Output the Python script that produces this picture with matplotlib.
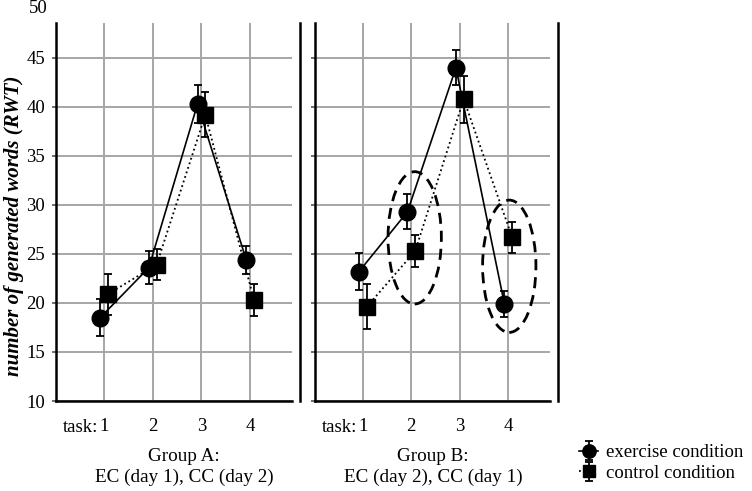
import matplotlib
matplotlib.use("Agg")
import matplotlib.pyplot as plt
from matplotlib.patches import Ellipse
import matplotlib.transforms as mtransforms

plt.rcParams['font.family'] = ['Liberation Serif', 'DejaVu Serif']

tasks = [1, 2, 3, 4]
tick_labels = ['1', '2', '3', '4']

# Group A
a_ex = [18.5, 23.6, 40.3, 24.4]
a_ex_err = [1.9, 1.7, 1.9, 1.4]
a_cc = [20.9, 23.9, 39.2, 20.3]
a_cc_err = [2.1, 1.6, 2.3, 1.6]
# Group B
b_ex = [23.2, 29.3, 44.0, 19.9]
b_ex_err = [1.9, 1.8, 1.8, 1.3]
b_cc = [19.6, 25.3, 40.8, 26.7]
b_cc_err = [2.3, 1.6, 2.4, 1.6]

group_titles = ["Group A:\nEC (day 1), CC (day 2)", "Group B:\nEC (day 2), CC (day 1)"]
ylabel = "number of generated words (RWT)"
legend_labels = ["exercise condition", "control condition"]
yticks = [10, 15, 20, 25, 30, 35, 40, 45]

W, H = 752, 491
fig = plt.figure(figsize=(W / 100, H / 100), dpi=100)

def fx(px):
    return px / W

def fy(py):
    return (H - py) / H

top, bottom = 23, 401
panels = [(56, 292), (315, 550)]
datasets = [(a_ex, a_ex_err, a_cc, a_cc_err), (b_ex, b_ex_err, b_cc, b_cc_err)]
title_px = [184, 433]
off = 0.08
handles = None
for i, ((x0, x1), (ex, exe, cc, cce)) in enumerate(zip(panels, datasets)):
    ax = fig.add_axes([fx(x0), fy(bottom), (x1 - x0) / W, (bottom - top) / H])
    ax.set_xlim(0.014, 4.86)
    ax.set_ylim(10, 48.57)
    ax.set_xticks(tasks)
    ax.set_xticklabels(tick_labels, fontsize=13.5)
    ax.set_yticks(yticks)
    ax.grid(True, color='#a6a6a6', lw=1.4)
    ax.set_axisbelow(True)
    ax.spines['top'].set_visible(False)
    ax.spines['right'].set_position(('outward', 5.8))
    for s in ['left', 'bottom', 'right']:
        ax.spines[s].set_linewidth(1.8)
    ax.tick_params(axis='x', length=0, pad=12)
    ax.tick_params(axis='y', length=3, width=1.2, color='#555555', labelsize=13.5, pad=5)
    if i == 1:
        ax.set_yticklabels([])
    else:
        ax.text(-0.035, 50, '50', transform=mtransforms.blended_transform_factory(ax.transAxes, ax.transData),
                ha='right', va='center', fontsize=13.5, clip_on=False)
    xe = [t - off for t in tasks]
    xc = [t + off for t in tasks]
    h1 = ax.errorbar(xe, ex, yerr=exe, fmt='-o', color='black', ms=12, lw=1.2,
                     elinewidth=1.3, capsize=3, capthick=1.3, zorder=4)
    h2 = ax.errorbar(xc, cc, yerr=cce, fmt=':s', color='black', ms=11.5, lw=1.3,
                     elinewidth=1.3, capsize=3, capthick=1.3, zorder=3)
    handles = [h1, h2]
    fig.text(fx(x0 + 42), fy(428), 'task:', ha='right', va='center', fontsize=13.5)
    fig.text(fx(title_px[i]), fy(467), group_titles[i], ha='center', va='center',
             fontsize=13.8, linespacing=1.25)
    if i == 1:
        ax.add_patch(Ellipse((2.07, 26.65), 1.1, 13.5, fill=False, ls=(0, (4, 2.5)),
                             lw=2, ec='black', zorder=5))
        ax.add_patch(Ellipse((4.02, 23.75), 1.1, 13.5, fill=False, ls=(0, (4, 2.5)),
                             lw=2, ec='black', zorder=5))

fig.text(fx(14), fy(226), ylabel, rotation=90, ha='center', va='center',
         fontsize=15, fontweight='bold', fontstyle='italic')

fig.legend(handles, legend_labels, loc='center left', bbox_to_anchor=(fx(570), fy(463)),
           frameon=False, fontsize=13.5, handlelength=1.0, handletextpad=0.4,
           labelspacing=0.2, borderpad=0, markerscale=0.8)

fig.savefig('out.png', dpi=100)
